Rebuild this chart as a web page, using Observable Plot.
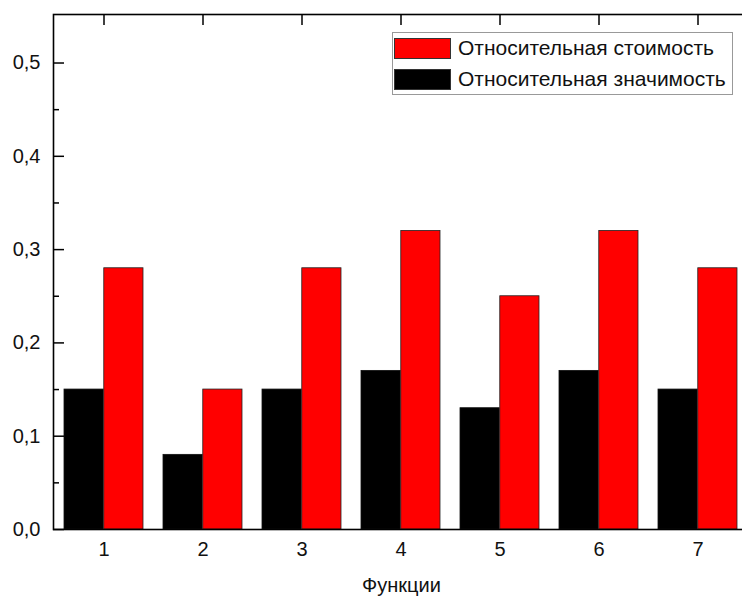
<!DOCTYPE html>
<html>
<head>
<meta charset="utf-8">
<script src="https://cdn.jsdelivr.net/npm/d3@7"></script>
<script src="https://cdn.jsdelivr.net/npm/@observablehq/plot@0.6"></script>
<style>
  body { margin: 0; background: #fff; font-family: "Liberation Sans", Arial, sans-serif; }
  #wrap { position: relative; width: 742px; height: 600px; overflow: hidden; }
  #legend { position: absolute; left: 392px; top: 32px; width: 341px; height: 63px;
    border: 1px solid #999; background: #fff; box-sizing: border-box; font-size: 21px; color: #111; }
  .row { position: absolute; left: 1px; display: flex; align-items: center; height: 24px; }
  .sw { width: 57px; height: 21px; box-sizing: border-box; border: 1px solid #333; margin-right: 7px; }
</style>
</head>
<body>
<div id="wrap"></div>
<script>
const categories = ["1", "2", "3", "4", "5", "6", "7"];
const significance = [0.15, 0.08, 0.15, 0.17, 0.13, 0.17, 0.15]; // Относительная значимость (black)
const cost = [0.28, 0.15, 0.28, 0.32, 0.25, 0.32, 0.28];         // Относительная стоимость (red)
const seriesNames = ["Относительная стоимость", "Относительная значимость"];
const seriesColors = ["#ff0000", "#000000"];
const yTicks = [0, 0.1, 0.2, 0.3, 0.4, 0.5];
const yMinorTicks = [0.05, 0.15, 0.25, 0.35, 0.45];
const xLabel = "Функции";

const rows = categories.map((c, i) => ({cat: c, sig: significance[i], cost: cost[i]}));
const fmt = d => d3.format(".1f")(d).replace(".", ",");

const W = 742, H = 600, mL = 53, mR = -7, mT = 14, mB = 71;
const plotW = W - mR - mL, plotH = H - mT - mB;
const bandStep = plotW / 7;
const half = bandStep * 0.8 / 2;

const chart = Plot.plot({
  width: W, height: H,
  marginLeft: mL, marginRight: mR, marginTop: mT, marginBottom: mB,
  style: {fontFamily: "Liberation Sans, Arial, sans-serif", fontSize: "20px", color: "#111", background: "white"},
  x: {domain: categories, paddingInner: 0.2, paddingOuter: 0.1, label: null},
  y: {domain: [0, 0.552], label: null},
  marks: [
    Plot.barY(rows, {x: "cat", y: "sig", fill: seriesColors[1], stroke: "#111", strokeWidth: 0.8, insetRight: half}),
    Plot.barY(rows, {x: "cat", y: "cost", fill: seriesColors[0], stroke: "#222", strokeWidth: 0.8, insetLeft: half}),
    Plot.frame({stroke: "#000", strokeWidth: 1.6}),
    Plot.ruleY(yTicks, {y: d => d, insetRight: plotW - 11, stroke: "#000", strokeWidth: 1.5}),
    Plot.ruleY(yMinorTicks, {y: d => d, insetRight: plotW - 6, stroke: "#000", strokeWidth: 1.5}),
    Plot.ruleX(categories, {x: d => d, insetBottom: plotH - 11, stroke: "#000", strokeWidth: 1.5}),
    Plot.axisY({ticks: yTicks, tickSize: 0, tickPadding: 13, tickFormat: fmt, fontSize: 20, label: null}),
    Plot.axisX({anchor: "bottom", tickSize: 0, tickPadding: 12, fontSize: 20, label: xLabel, labelAnchor: "center", labelOffset: 62, labelArrow: "none"})
  ]
});

const wrap = document.getElementById("wrap");
wrap.appendChild(chart);

const legend = document.createElement("div");
legend.id = "legend";
seriesNames.forEach((name, i) => {
  const row = document.createElement("div");
  row.className = "row";
  row.style.top = (i === 0 ? 3 : 34) + "px";
  const sw = document.createElement("div");
  sw.className = "sw";
  sw.style.background = seriesColors[i];
  const t = document.createElement("span");
  t.textContent = name;
  row.appendChild(sw);
  row.appendChild(t);
  legend.appendChild(row);
});
wrap.appendChild(legend);
</script>
</body>
</html>
